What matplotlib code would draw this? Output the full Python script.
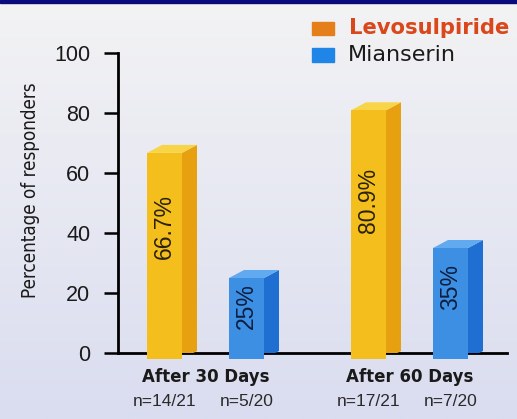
import matplotlib
matplotlib.use("Agg")
import matplotlib.pyplot as plt
import numpy as np
from matplotlib.patches import Polygon, Rectangle

groups = ["After 30 Days", "After 60 Days"]
series = ["Levosulpiride", "Mianserin"]
levo = [66.7, 80.9]
mian = [25, 35]
levo_n = ["n=14/21", "n=17/21"]
mian_n = ["n=5/20", "n=7/20"]
yticks = [0, 20, 40, 60, 80, 100]

plt.rcParams["font.family"] = ["Liberation Sans", "DejaVu Sans"]

W, H = 517, 419
fig = plt.figure(figsize=(W / 100, H / 100), dpi=100)

# background gradient
bg = fig.add_axes([0, 0, 1, 1])
grad = np.linspace(0, 1, 256)[:, None]
top = np.array([243, 243, 244]) / 255
bot = np.array([218, 221, 240]) / 255
img = top[None, None, :] * (1 - grad[:, :, None]) + bot[None, None, :] * grad[:, :, None]
bg.imshow(img, aspect="auto", extent=[0, 1, 0, 1], origin="upper")
bg.add_patch(Rectangle((0, 1 - 3 / H), 1, 3 / H, color="#0a0a7a", transform=bg.transAxes))
bg.set_xlim(0, 1); bg.set_ylim(0, 1)
bg.axis("off")

# main axes: x from px 118 to 507, y from px 53 (100) to 353 (0)
ax = fig.add_axes([118 / W, 1 - 353 / H, (507 - 118) / W, (353 - 53) / H])
ax.patch.set_alpha(0)
unit = 204.0
x0 = (118 - 205.5) / unit
x1 = (507 - 205.5) / unit
ax.set_xlim(x0, x1)
ax.set_ylim(0, 100)

off = 41 / unit
bw = 35 / unit
dx = 15 / unit
dy = 8 / 3.0

cols = {
    "Levosulpiride": ("#f4bf1c", "#e6a010", "#f8d548", "#2a2208"),
    "Mianserin": ("#3c8fe2", "#1f6fd2", "#62aaf0", "#0c1e40"),
}

def bar3d(xc, v, c):
    front, side, topc, _ = c
    l = xc - bw / 2
    r = xc + bw / 2
    ax.add_patch(Polygon([(r, -2), (r + dx, -2 + dy), (r + dx, v + dy), (r, v)],
                         closed=True, facecolor=side, edgecolor="none", zorder=3))
    ax.add_patch(Polygon([(l, v), (r, v), (r + dx, v + dy), (l + dx, v + dy)],
                         closed=True, facecolor=topc, edgecolor="none", zorder=3))
    ax.add_patch(Rectangle((l, -2), bw, v + 2, facecolor=front, edgecolor="none", zorder=3,
                           clip_on=False))

for i in range(len(groups)):
    for s, vals, sgn in (("Levosulpiride", levo, -1), ("Mianserin", mian, 1)):
        xc = i + sgn * off
        v = vals[i]
        bar3d(xc, v, cols[s])
        lab = f"{v:g}%"
        ax.text(xc, v * 0.63, lab, rotation=90, ha="center", va="center",
                fontsize=16.5, color=cols[s][3], zorder=4)

ax.spines["top"].set_visible(False)
ax.spines["right"].set_visible(False)
ax.spines["left"].set_linewidth(2)
ax.spines["bottom"].set_linewidth(2)
ax.spines["bottom"].set_zorder(2.5)
ax.set_yticks(yticks)
ax.set_yticklabels([str(t) for t in yticks], fontsize=15.5, color="#1a1a1a")
ax.tick_params(axis="y", length=10, width=1.8, pad=10)
ax.set_xticks([])

fig.text(31 / W, 1 - 190 / H, "Percentage of responders", rotation=90,
         ha="center", va="center", fontsize=13.5, family="DejaVu Sans",
         stretch="condensed", color="#1a1a1a")

# x labels
for i, g in enumerate(groups):
    ax.text(i, -8, g, ha="center", va="center", fontsize=12, fontweight="bold",
            family="DejaVu Sans", color="#1a1a1a", clip_on=False)
    ax.text(i - off, -16.3, levo_n[i], ha="center", va="center", fontsize=12.5,
            color="#2a2a2a", clip_on=False)
    ax.text(i + off, -16.3, mian_n[i], ha="center", va="center", fontsize=12.5,
            color="#2a2a2a", clip_on=False)

# legend
bg.add_patch(Rectangle((312 / W, 1 - 35 / H), 22 / W, 13 / H, color="#e57f1a",
                       transform=bg.transAxes))
bg.text(349 / W, 1 - 28 / H, "Levosulpiride", fontsize=15.2, fontweight="bold",
        family="DejaVu Sans", color="#d9471a", va="center", ha="left",
        transform=bg.transAxes)
bg.add_patch(Rectangle((312 / W, 1 - 62 / H), 22 / W, 14 / H, color="#1f86e8",
                       transform=bg.transAxes))
bg.text(348 / W, 1 - 55 / H, "Mianserin", fontsize=16, family="DejaVu Sans",
        color="#1a1a1a", va="center", ha="left", transform=bg.transAxes)

fig.savefig("out.png", dpi=100)
